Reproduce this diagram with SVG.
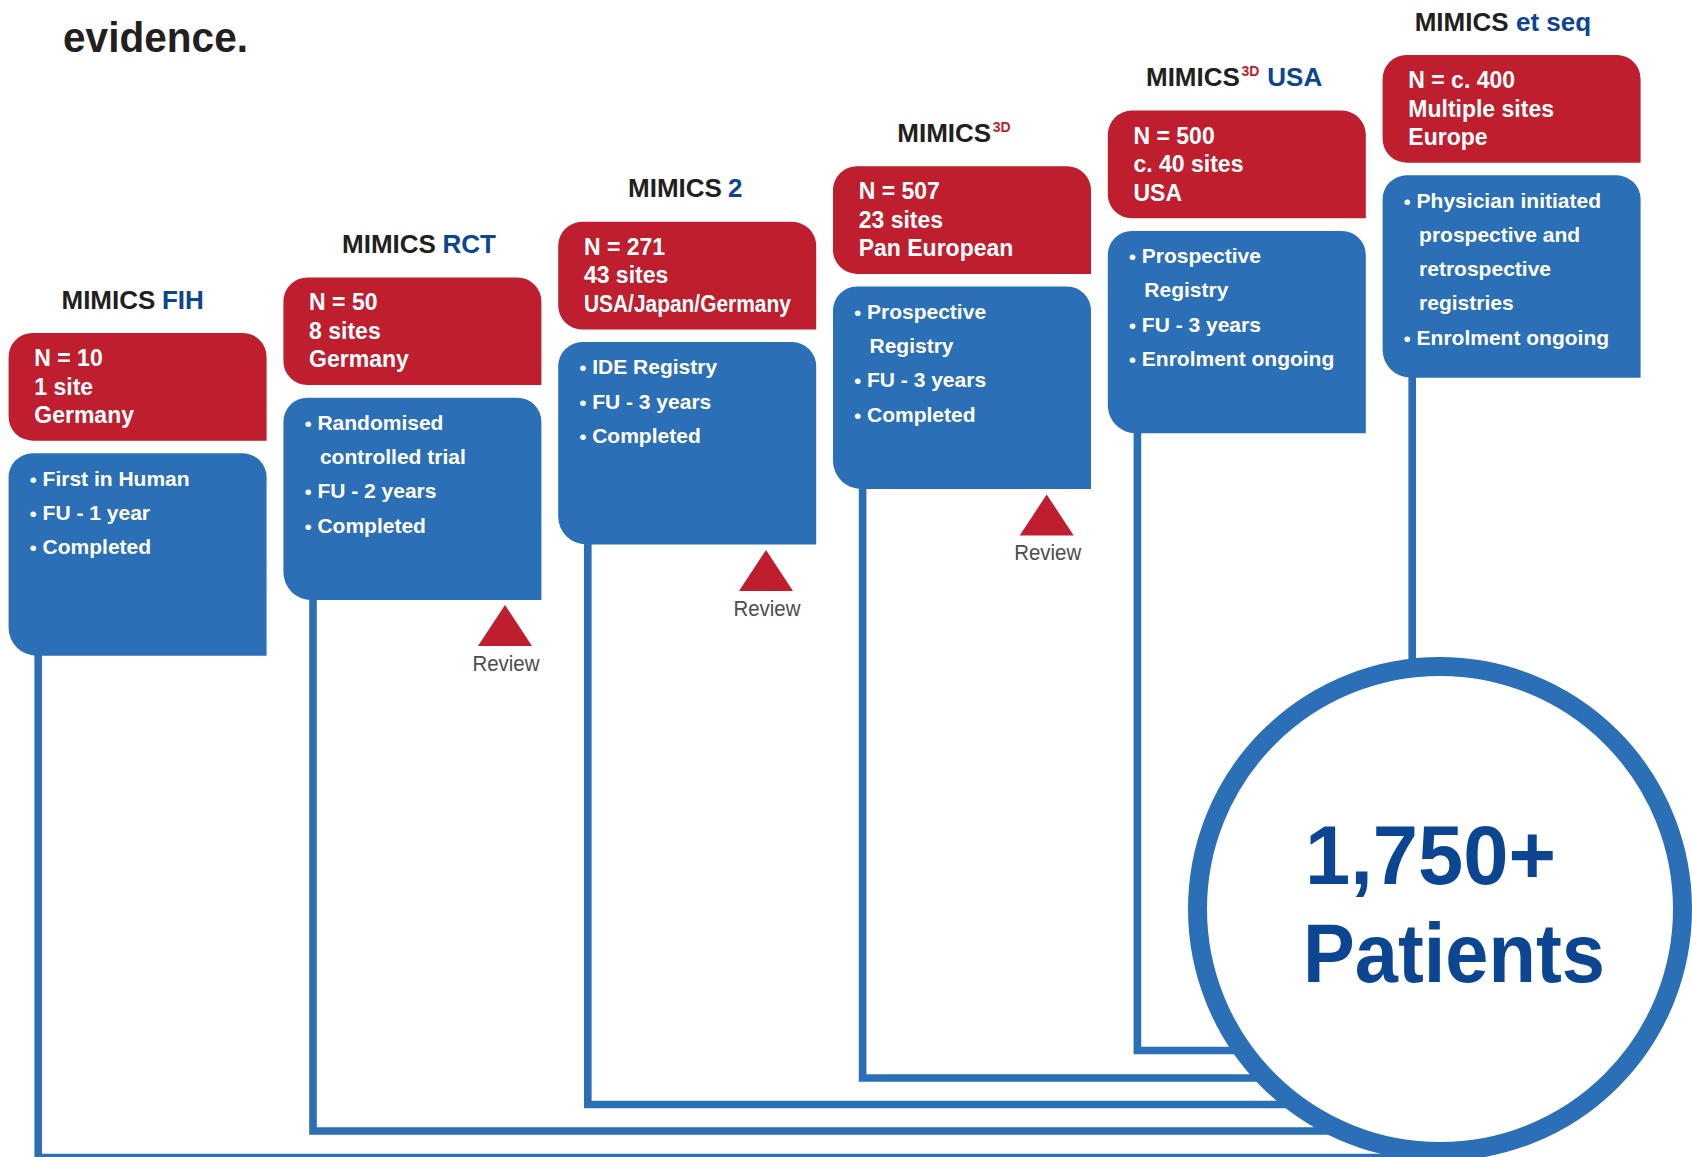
<svg xmlns="http://www.w3.org/2000/svg" xmlns:xlink="http://www.w3.org/1999/xlink" width="1692" height="1157" viewBox="0 0 1692 1157">
  <style>
    text { font-family: "Liberation Sans", Arial, sans-serif; }
    .head { font-weight: bold; font-size: 42px; fill: #231f20; }
    .title { font-weight: bold; font-size: 26px; fill: #231f20; }
    .hi { fill: #0c4592; }
    .sup { fill: #be1e2d; font-size: 14px; }
    .red { fill: #be1e2d; }
    .blue { fill: #2b6fb6; }
    .rt { font-weight: bold; font-size: 23px; fill: #ffffff; }
    .bt { font-weight: bold; font-size: 21px; fill: #ffffff; }
    .bul { font-size: 21px; fill: #ffffff; text-anchor: middle; }
    .rev { font-size: 22px; fill: #4d4d4d; text-anchor: middle; }
    .link { fill: none; stroke: #2b6fb6; stroke-width: 7.6; stroke-linejoin: miter; }
    .ring { fill: #ffffff; stroke: #2b6fb6; stroke-width: 19; }
    .big { font-weight: bold; font-size: 84px; fill: #0c4592; }
  </style>
  <defs>
    <!-- study card header: rounded except bottom-right -->
    <path id="redShape" d="M24,0 H234 A24,24 0 0 1 258,24 V107.7 H24 A24,24 0 0 1 0,83.7 V24 A24,24 0 0 1 24,0 Z"/>
    <!-- study card body -->
    <path id="blueShape" d="M24,0 H234 A24,24 0 0 1 258,24 V202.4 H28 A28,28 0 0 1 0,174.4 V24 A24,24 0 0 1 24,0 Z"/>
    <polygon id="reviewMark" points="0,0 27,41 -27,41"/>
  </defs>

  <rect width="1692" height="1157" fill="#ffffff"/>

  <text class="head" x="63" y="51.5" textLength="185" lengthAdjust="spacingAndGlyphs">evidence.</text>

  <!-- connectors from each study to the total -->
  <g id="connectors">
    <path class="link" d="M38.2,652 V1157.5 H1440"/>
    <path class="link" d="M313,596 V1131 H1440"/>
    <path class="link" d="M587.8,541 V1104.5 H1440"/>
    <path class="link" d="M862.6,485 V1078 H1440"/>
    <path class="link" d="M1137.4,430 V1050.5 H1440"/>
    <path class="link" d="M1412.2,374 V700"/>
  </g>

  <!-- MIMICS FIH -->
  <g id="study-fih" transform="translate(8.6,333)">
    <text class="title" y="-24.5"><tspan x="52.9">MIMICS</tspan><tspan class="hi" x="153.4">FIH</tspan></text>
    <use href="#redShape" class="red"/>
    <text class="rt" x="25.7" y="33">N = 10</text>
    <text class="rt" x="25.7" y="61.5">1 site</text>
    <text class="rt" x="25.7" y="90">Germany</text>
    <use href="#blueShape" class="blue" y="120.3"/>
    <text class="bul" x="24.7" y="153.5">•</text>
    <text class="bt" x="34" y="152.5">First in Human</text>
    <text class="bul" x="24.7" y="187.8">•</text>
    <text class="bt" x="34" y="186.8">FU - 1 year</text>
    <text class="bul" x="24.7" y="222.1">•</text>
    <text class="bt" x="34" y="221.1">Completed</text>
  </g>

  <!-- MIMICS RCT -->
  <g id="study-rct" transform="translate(283.4,277.4)">
    <text class="title" y="-24.5"><tspan x="58.6">MIMICS</tspan><tspan class="hi" x="159">RCT</tspan></text>
    <use href="#redShape" class="red"/>
    <text class="rt" x="25.7" y="33">N = 50</text>
    <text class="rt" x="25.7" y="61.5">8 sites</text>
    <text class="rt" x="25.7" y="90">Germany</text>
    <use href="#blueShape" class="blue" y="120.3"/>
    <text class="bul" x="24.7" y="153.5">•</text>
    <text class="bt" x="34" y="152.5">Randomised</text>
    <text class="bt" x="36.5" y="186.8">controlled trial</text>
    <text class="bul" x="24.7" y="222.1">•</text>
    <text class="bt" x="34" y="221.1">FU - 2 years</text>
    <text class="bul" x="24.7" y="256.4">•</text>
    <text class="bt" x="34" y="255.4">Completed</text>
  </g>

  <!-- MIMICS 2 -->
  <g id="study-mimics2" transform="translate(558.2,221.8)">
    <text class="title" y="-24.5"><tspan x="69.8">MIMICS</tspan><tspan class="hi" x="169.8">2</tspan></text>
    <use href="#redShape" class="red"/>
    <text class="rt" x="25.7" y="33">N = 271</text>
    <text class="rt" x="25.7" y="61.5">43 sites</text>
    <text class="rt" x="25.7" y="90" textLength="207" lengthAdjust="spacingAndGlyphs">USA/Japan/Germany</text>
    <use href="#blueShape" class="blue" y="120.3"/>
    <text class="bul" x="24.7" y="153.5">•</text>
    <text class="bt" x="34" y="152.5">IDE Registry</text>
    <text class="bul" x="24.7" y="187.8">•</text>
    <text class="bt" x="34" y="186.8">FU - 3 years</text>
    <text class="bul" x="24.7" y="222.1">•</text>
    <text class="bt" x="34" y="221.1">Completed</text>
  </g>

  <!-- MIMICS 3D -->
  <g id="study-mimics3d" transform="translate(833,166.2)">
    <text class="title" y="-24.5"><tspan x="64.3">MIMICS</tspan><tspan class="sup" dx="1.5" dy="-10">3D</tspan></text>
    <use href="#redShape" class="red"/>
    <text class="rt" x="25.7" y="33">N = 507</text>
    <text class="rt" x="25.7" y="61.5">23 sites</text>
    <text class="rt" x="25.7" y="90">Pan European</text>
    <use href="#blueShape" class="blue" y="120.3"/>
    <text class="bul" x="24.7" y="153.5">•</text>
    <text class="bt" x="34" y="152.5">Prospective</text>
    <text class="bt" x="36.5" y="186.8">Registry</text>
    <text class="bul" x="24.7" y="222.1">•</text>
    <text class="bt" x="34" y="221.1">FU - 3 years</text>
    <text class="bul" x="24.7" y="256.4">•</text>
    <text class="bt" x="34" y="255.4">Completed</text>
  </g>

  <!-- MIMICS 3D USA -->
  <g id="study-mimics3d-usa" transform="translate(1107.8,110.6)">
    <text class="title" y="-24.5"><tspan x="38.2">MIMICS</tspan><tspan class="sup" dx="1.5" dy="-10">3D</tspan><tspan class="hi" x="159.5" dy="10">USA</tspan></text>
    <use href="#redShape" class="red"/>
    <text class="rt" x="25.7" y="33">N = 500</text>
    <text class="rt" x="25.7" y="61.5">c. 40 sites</text>
    <text class="rt" x="25.7" y="90">USA</text>
    <use href="#blueShape" class="blue" y="120.3"/>
    <text class="bul" x="24.7" y="153.5">•</text>
    <text class="bt" x="34" y="152.5">Prospective</text>
    <text class="bt" x="36.5" y="186.8">Registry</text>
    <text class="bul" x="24.7" y="222.1">•</text>
    <text class="bt" x="34" y="221.1">FU - 3 years</text>
    <text class="bul" x="24.7" y="256.4">•</text>
    <text class="bt" x="34" y="255.4">Enrolment ongoing</text>
  </g>

  <!-- MIMICS et seq -->
  <g id="study-et-seq" transform="translate(1382.6,55)">
    <text class="title" y="-24.5"><tspan x="32.1">MIMICS</tspan><tspan class="hi" x="133.4">et seq</tspan></text>
    <use href="#redShape" class="red"/>
    <text class="rt" x="25.7" y="33">N = c. 400</text>
    <text class="rt" x="25.7" y="61.5">Multiple sites</text>
    <text class="rt" x="25.7" y="90">Europe</text>
    <use href="#blueShape" class="blue" y="120.3"/>
    <text class="bul" x="24.7" y="153.5">•</text>
    <text class="bt" x="34" y="152.5">Physician initiated</text>
    <text class="bt" x="36.5" y="186.8">prospective and</text>
    <text class="bt" x="36.5" y="221.1">retrospective</text>
    <text class="bt" x="36.5" y="255.4">registries</text>
    <text class="bul" x="24.7" y="290.7">•</text>
    <text class="bt" x="34" y="289.7">Enrolment ongoing</text>
  </g>

  <!-- review milestones -->
  <g id="review-rct">
    <use href="#reviewMark" class="red" x="505" y="605"/>
    <text class="rev" x="506" y="671" textLength="67" lengthAdjust="spacingAndGlyphs">Review</text>
  </g>
  <g id="review-mimics2">
    <use href="#reviewMark" class="red" x="766" y="550"/>
    <text class="rev" x="767" y="615.5" textLength="67" lengthAdjust="spacingAndGlyphs">Review</text>
  </g>
  <g id="review-mimics3d">
    <use href="#reviewMark" class="red" x="1046.7" y="494.5"/>
    <text class="rev" x="1047.7" y="560" textLength="67" lengthAdjust="spacingAndGlyphs">Review</text>
  </g>

  <!-- combined total -->
  <g id="total">
    <circle class="ring" cx="1440" cy="909" r="242.5"/>
    <text class="big" x="1305" y="883.5" textLength="251" lengthAdjust="spacingAndGlyphs">1,750+</text>
    <text class="big" x="1303" y="982" textLength="302" lengthAdjust="spacingAndGlyphs">Patients</text>
  </g>
</svg>
